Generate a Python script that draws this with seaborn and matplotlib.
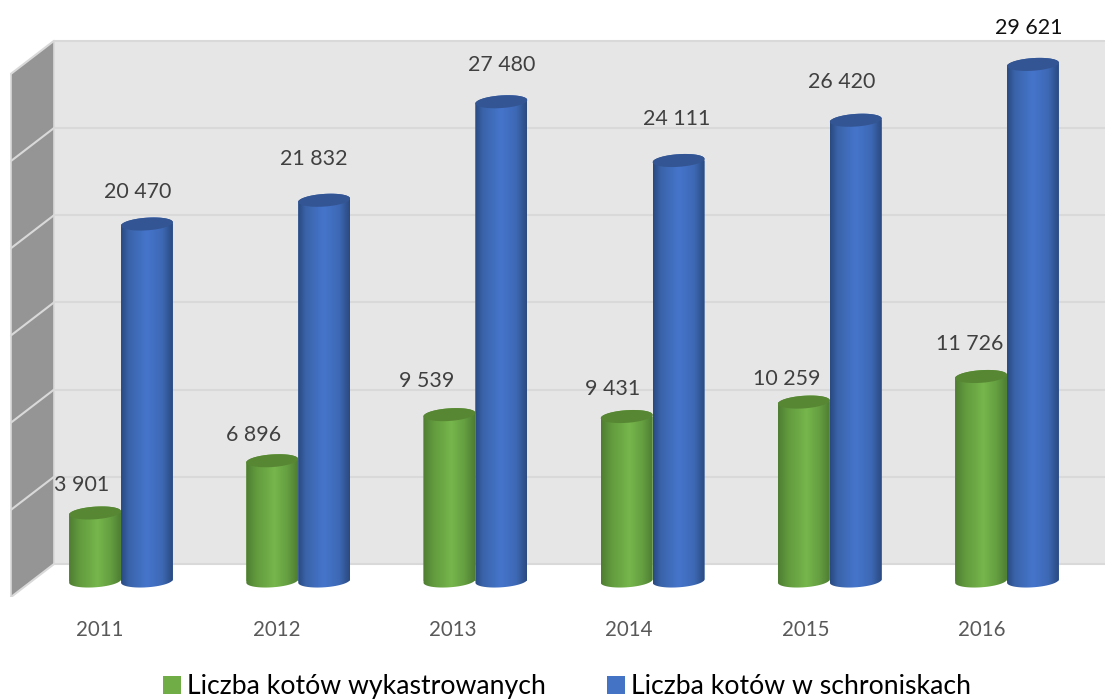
import numpy as np
import pandas as pd
import matplotlib
matplotlib.use("Agg")
import matplotlib.pyplot as plt
from matplotlib.colors import LinearSegmentedColormap
from matplotlib.patches import Polygon
from matplotlib.transforms import ScaledTranslation
import seaborn as sns

years = ["2011", "2012", "2013", "2014", "2015", "2016"]
wykastrowane = [3901, 6896, 9539, 9431, 10259, 11726]
schroniska = [20470, 21832, 27480, 24111, 26420, 29621]
name_green = "Liczba kotów wykastrowanych"
name_blue = "Liczba kotów w schroniskach"
grid_values = [0, 5000, 10000, 15000, 20000, 25000, 30000]

# label offsets from top of bar, in pixels (placed by hand in the original)
green_offsets = [(-13, 28), (-19, 26), (-23, 34), (-14, 28), (-17, 23), (-11, 32)]
blue_offsets = [(-9, 32), (-10, 41), (0, 37), (-2, 42), (-14, 38), (-4, 36)]

W, H = 1105, 700
BASE_PX = 581          # pixel row of value 0 at bar depth
PX_PER_VAL = 0.01744
PX_PER_CAT = 177.2
X0_PX = 121            # pixel col of first category
FRONT_PX = 597

df = pd.DataFrame({
    "rok": years * 2,
    "liczba": wykastrowane + schroniska,
    "seria": [name_green] * 6 + [name_blue] * 6,
})

sns.set_theme(style="white")
plt.rcParams["font.family"] = ["Lato", "DejaVu Sans"]

fig = plt.figure(figsize=(W / 100, H / 100), dpi=100)
ax = fig.add_axes([0, (H - FRONT_PX) / H, 1, FRONT_PX / H])

sns.barplot(ax=ax, data=df, x="rok", y="liczba", hue="seria", width=0.586,
            palette=["#70ad47", "#4472c4"], saturation=1, linewidth=0)


def xd(px):
    return (px - X0_PX) / PX_PER_CAT


def yd(px):
    return (BASE_PX - px) / PX_PER_VAL


xlim = (xd(0), xd(W))
ylim = (yd(FRONT_PX), yd(0))

# back wall, side wall
ax.add_patch(Polygon([(xd(54), yd(41)), (xd(W), yd(41)), (xd(W), yd(564)), (xd(54), yd(564))],
                     fc="#e6e6e6", ec="none", zorder=0.5))
ax.add_patch(Polygon([(xd(11), yd(74)), (xd(54), yd(41)), (xd(54), yd(564)), (xd(11), yd(597))],
                     fc="#959595", ec="none", zorder=0.6))
back = yd(564)
front = yd(597)
for g in grid_values:
    ax.plot([xd(54), xd(W)], [g + back, g + back], color="#d9d9d9", lw=1.5, zorder=0.7)
    ax.plot([xd(11), xd(54)], [g + front, g + back], color="#d9d9d9", lw=1.5, zorder=0.7)
ax.plot([xd(54), xd(54)], [back, 30000 + back], color="#d9d9d9", lw=1.2, zorder=0.7)
ax.plot([xd(11), xd(11)], [front, 30000 + front], color="#d9d9d9", lw=1.2, zorder=0.7)

cm_green = LinearSegmentedColormap.from_list(
    "g", [(0, "#4f7d32"), (0.2, "#629b3e"), (0.55, "#76b64c"), (0.8, "#659f41"), (1, "#4f7d32")])
cm_blue = LinearSegmentedColormap.from_list(
    "b", [(0, "#2a4a80"), (0.15, "#3a63a9"), (0.5, "#4575cc"), (0.8, "#3d68b4"), (1, "#2a4a80")])
grad = np.linspace(0, 1, 128).reshape(1, -1)

TILT = np.radians(4)
B_PX = 6.3


def ellipse(cx, cy, a_px, t):
    # tilted ellipse, right side higher, back to data coordinates
    dx = a_px * np.cos(t) * np.cos(TILT) - B_PX * np.sin(t) * np.sin(TILT)
    dy = a_px * np.cos(t) * np.sin(TILT) + B_PX * np.sin(t) * np.cos(TILT)
    return cx + dx / PX_PER_CAT, cy + dy / PX_PER_VAL


series = [(ax.containers[0], cm_green, "#588734", 3, green_offsets),
          (ax.containers[1], cm_blue, "#335593", 5, blue_offsets)]

for cont, cmap, top_col, z, offsets in series:
    for i, bar in enumerate(cont.patches):
        x0 = bar.get_x()
        w = bar.get_width()
        h = bar.get_height()
        cx = x0 + w / 2
        a_px = w * PX_PER_CAT / 2
        # body outline: top half arc of the top ellipse down to lower half of bottom ellipse
        t = np.linspace(0, np.pi, 40)
        tx, ty = ellipse(cx, h, a_px, t)
        bx, by = ellipse(cx, 0, a_px, t + np.pi)
        body = np.column_stack([np.r_[tx, bx], np.r_[ty, by]])
        clip = Polygon(body, transform=ax.transData, fc="none", ec="none")
        ax.add_patch(clip)
        bar.set_clip_path(clip)
        bar.set_zorder(z)
        im = ax.imshow(grad, cmap=cmap, aspect="auto", interpolation="bilinear",
                       extent=[x0, x0 + w, yd(FRONT_PX), h + yd(BASE_PX - 12)],
                       zorder=z + 0.1)
        im.set_clip_path(clip)
        t2 = np.linspace(0, 2 * np.pi, 80)
        ex, ey = ellipse(cx, h, a_px, t2)
        ax.add_patch(Polygon(np.column_stack([ex, ey]), fc=top_col, ec="none", zorder=z + 0.2))
        off = offsets[i]
        ax.annotate(f"{h:,.0f}".replace(",", " "), (cx, h),
                    xytext=(off[0] * 0.72, off[1] * 0.72), textcoords="offset points",
                    ha="center", va="center", fontsize=15.4, zorder=9,
                    color="#111111" if off == blue_offsets[-1] else "#404040",
                    annotation_clip=False)

ax.set_xlim(*xlim)
ax.set_ylim(*ylim)
ax.set_xlabel("")
ax.set_ylabel("")
ax.set_yticks([])
sns.despine(ax=ax, left=True, bottom=True)
ax.patch.set_alpha(0)

ax.tick_params(axis="x", length=0, pad=16.8, labelsize=14.8, labelcolor="#595959")
for i, lab in enumerate(ax.get_xticklabels()):
    shift = ScaledTranslation(-(21 + 0.8 * i) / 100, 0, fig.dpi_scale_trans)
    lab.set_transform(lab.get_transform() + shift)

handles, labels = ax.get_legend_handles_labels()
ax.legend(handles, labels, ncols=2, frameon=False, fontsize=19.2,
          loc="lower center", bbox_to_anchor=(567 / W, 1 / H), bbox_transform=fig.transFigure,
          borderpad=0, borderaxespad=0, handlelength=0.675, handleheight=0.675,
          handletextpad=0.225, columnspacing=2.32, labelcolor="#000000")

fig.savefig("out.png", dpi=100)
